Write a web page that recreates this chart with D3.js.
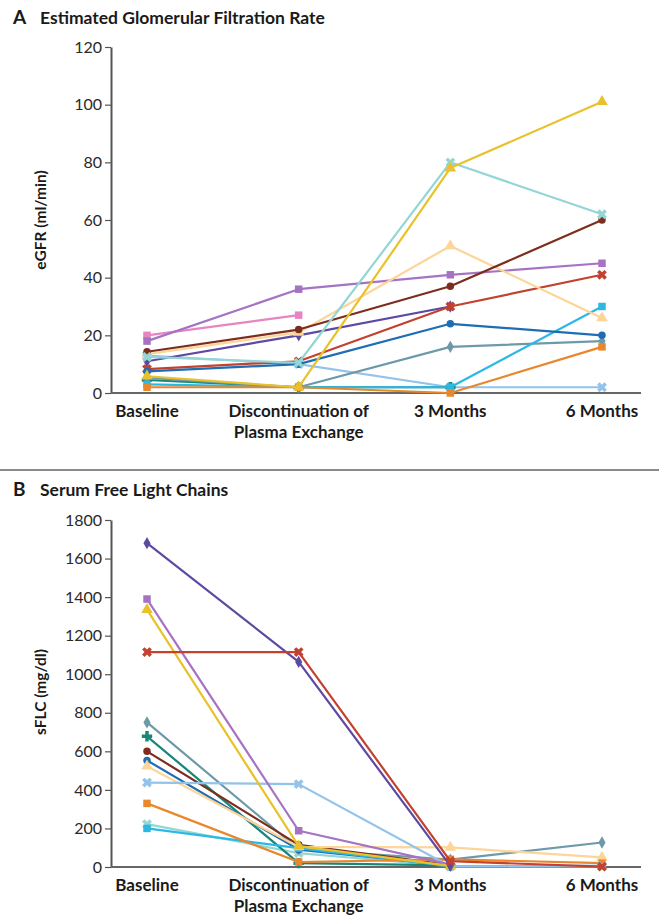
<!DOCTYPE html>
<html>
<head>
<meta charset="utf-8">
<script src="https://cdn.jsdelivr.net/npm/d3@7"></script>
<style>
  body { margin: 0; background: #fff; }
  svg { display: block; font-family: Lato, "Open Sans", sans-serif; }
</style>
</head>
<body>
<svg id="chart" width="659" height="924"></svg>
<script>
const categories = ["Baseline", "Discontinuation of|Plasma Exchange", "3 Months", "6 Months"];
const gfrTicks = [0, 20, 40, 60, 80, 100, 120];
const flcTicks = [0, 200, 400, 600, 800, 1000, 1200, 1400, 1600, 1800];

// eGFR, ml/min  (null = no measurement)
const gfrLightBlue = [13, 10, 2, 2];
const gfrTeal = [12.5, 10.5, 80, 62];
const gfrGreen = [4.5, 2, 2, null];
const gfrGrayTeal = [5.2, 2, 16, 18];
const gfrCyan = [3, 2, 2, 30];
const gfrOrange = [2, 2, 0, 16];
const gfrPink = [20, 27, null, null];
const gfrPurple = [18, 36, 41, 45];
const gfrDarkPurple = [11, 20, 30, null];
const gfrRed = [8.3, 11, 30, 41];
const gfrBlue = [7.5, 10, 24, 20];
const gfrPeach = [13.5, 21, 51, 26];
const gfrBrown = [14.3, 22, 37, 60];
const gfrYellow = [5.8, 2, 78, 101];

// serum free light chains, mg/dl
const flcLightBlue = [438, 430, 3, 5];
const flcTeal = [222, 72, 4, 4];
const flcGreen = [678, 20, 8, null];
const flcGrayTeal = [750, 92, 38, 127];
const flcCyan = [200, 98, 4, 6];
const flcOrange = [330, 26, 40, 20];
const flcPurple = [1390, 188, 12, null];
const flcDarkPurple = [1680, 1064, 6, null];
const flcRed = [1115, 1115, 30, 2];
const flcBlue = [553, 90, 8, null];
const flcPeach = [523, 104, 102, 50];
const flcBrown = [600, 115, 10, null];
const flcYellow = [1335, 108, 6, null];

const styles = {
  lightBlue:  { color: "#93c3ea", mark: "x" },
  teal:       { color: "#93d6d3", mark: "x" },
  green:      { color: "#168778", mark: "plus" },
  grayTeal:   { color: "#6d99a9", mark: "diamond" },
  cyan:       { color: "#2bb8e4", mark: "square" },
  orange:     { color: "#e8872b", mark: "square" },
  pink:       { color: "#e784c2", mark: "square" },
  purple:     { color: "#a673c3", mark: "square" },
  darkPurple: { color: "#5d49a2", mark: "diamond" },
  red:        { color: "#c2412f", mark: "x" },
  blue:       { color: "#1f6db3", mark: "circle" },
  peach:      { color: "#fdd598", mark: "triangle" },
  brown:      { color: "#7d2d1d", mark: "circle" },
  yellow:     { color: "#e9c12a", mark: "triangle" }
};

const gfrSeries = [
  ["lightBlue", gfrLightBlue], ["green", gfrGreen], ["grayTeal", gfrGrayTeal],
  ["cyan", gfrCyan], ["orange", gfrOrange], ["pink", gfrPink], ["purple", gfrPurple],
  ["darkPurple", gfrDarkPurple], ["red", gfrRed], ["blue", gfrBlue], ["peach", gfrPeach],
  ["brown", gfrBrown], ["teal", gfrTeal], ["yellow", gfrYellow]
];
const flcSeries = [
  ["teal", flcTeal], ["green", flcGreen], ["grayTeal", flcGrayTeal], ["blue", flcBlue],
  ["brown", flcBrown], ["cyan", flcCyan], ["peach", flcPeach], ["orange", flcOrange],
  ["lightBlue", flcLightBlue], ["purple", flcPurple], ["yellow", flcYellow],
  ["darkPurple", flcDarkPurple], ["red", flcRed]
];

const svg = d3.select("#chart");

const x = d3.scalePoint()
  .domain(categories)
  .range([147, 602]);

const symbolFor = {
  circle: d3.symbol().type(d3.symbolCircle).size(44),
  square: d3.symbol().type(d3.symbolSquare).size(56),
  diamond: d3.symbol().type(d3.symbolDiamond).size(44),
  triangle: d3.symbol().type(d3.symbolTriangle).size(58),
  x: d3.symbol().type(d3.symbolCross).size(60),
  plus: d3.symbol().type(d3.symbolCross).size(60)
};

function drawPanel(opts) {
  const y = d3.scaleLinear().domain(opts.domain).range(opts.range);
  const g = svg.append("g");

  // panel title
  const t = g.append("text")
    .attr("x", 13)
    .attr("y", opts.titleY)
    .attr("font-weight", 700)
    .attr("font-size", 17.5)
    .attr("fill", "#1a1a1a");
  t.append("tspan").attr("font-size", 19).text(opts.letter);
  t.append("tspan").attr("x", 40).text(opts.title);

  // y axis
  const yAxis = g.append("g")
    .attr("transform", "translate(111,0)")
    .call(d3.axisLeft(y).tickValues(opts.ticks).tickFormat(d3.format("d"))
      .tickSize(6).tickSizeOuter(0).tickPadding(3));
  yAxis.select(".domain").attr("stroke", "#555").attr("stroke-width", 2);
  yAxis.selectAll(".tick line").attr("stroke", "#555").attr("stroke-width", 1.2);
  yAxis.selectAll(".tick text")
    .attr("font-size", 16)
    .attr("fill", "#2a2a2a")
    .attr("font-family", "Lato, sans-serif");

  // x baseline
  g.append("line")
    .attr("x1", 111).attr("x2", 641)
    .attr("y1", y(0)).attr("y2", y(0))
    .attr("stroke", "#666").attr("stroke-width", 2);

  // category labels
  categories.forEach(c => {
    const lines = c.split("|");
    const lab = g.append("text")
      .attr("text-anchor", "middle")
      .attr("font-weight", 700)
      .attr("font-size", 17)
      .attr("fill", "#1a1a1a");
    lines.forEach((l, i) => {
      lab.append("tspan")
        .attr("x", x(c))
        .attr("y", y(0) + 24 + i * 21)
        .text(l);
    });
  });

  // y title
  g.append("text")
    .attr("transform", `translate(46,${opts.labelY}) rotate(-90)`)
    .attr("text-anchor", "middle")
    .attr("font-weight", 700)
    .attr("font-size", 15.5)
    .attr("fill", "#1a1a1a")
    .text(opts.yLabel);

  const line = d3.line()
    .defined(d => d.v !== null)
    .x(d => x(d.c))
    .y(d => y(d.v));

  opts.series.forEach(([name, values]) => {
    const st = styles[name];
    const pts = values.map((v, i) => ({ c: categories[i], v: v }));
    g.append("path")
      .datum(pts)
      .attr("d", line)
      .attr("fill", "none")
      .attr("stroke", st.color)
      .attr("stroke-width", 2.2)
      .attr("stroke-linejoin", "round");
    g.selectAll(null)
      .data(pts.filter(d => d.v !== null))
      .enter()
      .append("path")
      .attr("d", symbolFor[st.mark]())
      .attr("transform", d => `translate(${x(d.c)},${y(d.v)})` + (st.mark === "x" ? " rotate(45)" : ""))
      .attr("fill", st.color);
  });
}

drawPanel({
  letter: "A", title: "Estimated Glomerular Filtration Rate", titleY: 24,
  domain: [0, 120], range: [393, 47], ticks: gfrTicks,
  yLabel: "eGFR (ml/min)", labelY: 220, series: gfrSeries
});

svg.append("line")
  .attr("x1", 0).attr("x2", 659)
  .attr("y1", 470).attr("y2", 470)
  .attr("stroke", "#8a8a8a").attr("stroke-width", 2);

drawPanel({
  letter: "B", title: "Serum Free Light Chains", titleY: 496,
  domain: [0, 1800], range: [867, 520], ticks: flcTicks,
  yLabel: "sFLC (mg/dl)", labelY: 692, series: flcSeries
});
</script>
</body>
</html>
